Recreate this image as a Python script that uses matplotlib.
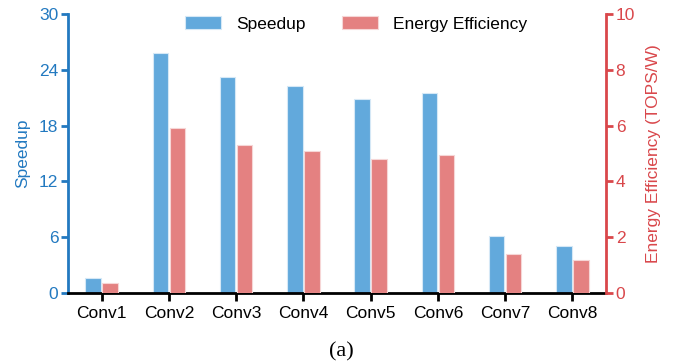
import numpy as np
import matplotlib.pyplot as plt

plt.rcParams['font.family'] = ['Liberation Sans', 'DejaVu Sans']

layers = ['Conv1', 'Conv2', 'Conv3', 'Conv4', 'Conv5', 'Conv6', 'Conv7', 'Conv8']
speedup = [1.6, 25.8, 23.2, 22.3, 20.9, 21.5, 6.1, 5.1]
energy_eff = [0.35, 5.92, 5.32, 5.1, 4.81, 4.93, 1.39, 1.18]

blue_bar = '#62a9dc'
red_bar = '#e48181'
blue_ax = '#2279c0'
red_ax = '#d9474b'

fig = plt.figure(figsize=(6.74, 3.64), dpi=100)
ax = fig.add_axes([68 / 674, 71 / 364, 538 / 674, 279 / 364])
ax2 = ax.twinx()

x = np.arange(len(layers))
w = 0.23
b1 = ax.bar(x - 0.125, speedup, w, color=blue_bar, edgecolor='#d5e8f6', linewidth=0.8,
            label='Speedup')
b2 = ax2.bar(x + 0.125, energy_eff, w, color=red_bar, edgecolor='#f6d6d6', linewidth=0.8,
             label='Energy Efficiency')

ax.set_xlim(-0.5, 7.5)
ax.set_ylim(0, 30)
ax.set_yticks([0, 6, 12, 18, 24, 30])
ax2.set_ylim(0, 10)
ax2.set_yticks([0, 2, 4, 6, 8, 10])
ax.set_xticks(x)
ax.set_xticklabels(layers)

for a in (ax, ax2):
    a.spines['top'].set_visible(False)
ax.spines['right'].set_visible(False)
ax2.spines['left'].set_visible(False)
ax2.spines['bottom'].set_visible(False)
ax.spines['left'].set_color(blue_ax)
ax.spines['left'].set_linewidth(2)
ax2.spines['right'].set_color(red_ax)
ax2.spines['right'].set_linewidth(2)
ax.spines['bottom'].set_color('black')
ax.spines['bottom'].set_linewidth(2)

ax.tick_params(axis='y', colors=blue_ax, labelsize=12.5, width=2, length=5, pad=2)
ax2.tick_params(axis='y', colors=red_ax, labelsize=12.5, width=2, length=5, pad=2)
ax.tick_params(axis='x', colors='black', labelsize=12.5, width=2, length=6, pad=3)

ax.set_ylabel('Speedup', color=blue_ax, fontsize=12.5, labelpad=6)
ax2.set_ylabel('Energy Efficiency (TOPS/W)', color=red_ax, fontsize=12.5, labelpad=8)

fig.legend([b1, b2], ['Speedup', 'Energy Efficiency'], loc='upper center',
           bbox_to_anchor=(0.528, 1.0), ncol=2, frameon=False, fontsize=12.5,
           handlelength=2.1, handleheight=0.85, columnspacing=2.1, handletextpad=0.85)

fig.text(0.507, 0.02, '(a)', ha='center', fontsize=16, family='Liberation Serif')

fig.savefig('out.png', dpi=100)
